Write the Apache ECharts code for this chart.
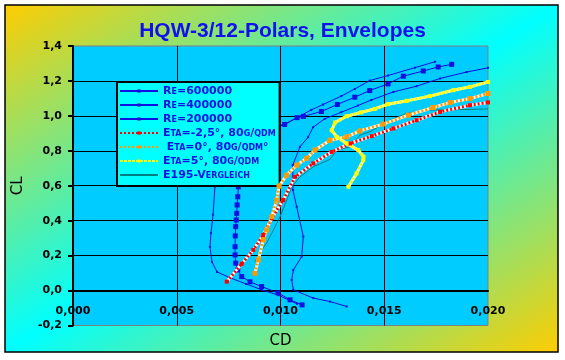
<!DOCTYPE html>
<html><head><meta charset="utf-8">
<script src="https://cdn.jsdelivr.net/npm/echarts@6/dist/echarts.min.js"></script>
<style>html,body{margin:0;padding:0;background:#fff}#c{width:565px;height:360px}</style>
</head><body><div id="c"></div>
<script>
// [CD, CL] pairs
const re600 = [[0.0108,-0.076],[0.00988,-0.026],[0.0091,0.004],[0.00834,0.038],[0.00757,0.073],[0.00694,0.107],[0.0067,0.164],[0.0066,0.25],[0.00665,0.33],[0.00675,0.434],[0.00684,0.593],[0.0070,0.69],[0.0074,0.80],[0.0082,0.89],[0.0094,0.935],[0.0102,0.951],[0.0108,0.99],[0.01148,1.034],[0.01205,1.065],[0.01293,1.113],[0.01358,1.154],[0.0143,1.202],[0.01518,1.231],[0.01648,1.276],[0.01745,1.31]];
const re400 = [[0.01104,-0.082],[0.01046,-0.053],[0.00988,-0.013],[0.00909,0.023],[0.00853,0.05],[0.00813,0.08],[0.00794,0.118],[0.00784,0.157],[0.00781,0.204],[0.00781,0.251],[0.00782,0.313],[0.00784,0.366],[0.00787,0.404],[0.00789,0.442],[0.00791,0.49],[0.00794,0.537],[0.00797,0.594],[0.0081,0.70],[0.0085,0.80],[0.0091,0.88],[0.0097,0.93],[0.0102,0.951],[0.0108,0.99],[0.0111,0.997],[0.01197,1.025],[0.01274,1.065],[0.01358,1.107],[0.0143,1.145],[0.01518,1.183],[0.01592,1.227],[0.01688,1.257],[0.0176,1.28],[0.01825,1.295]];
const re200 = [[0.01319,-0.091],[0.01239,-0.063],[0.01158,-0.043],[0.01062,0.004],[0.01054,0.061],[0.01062,0.118],[0.01102,0.194],[0.0111,0.309],[0.01078,0.48],[0.0106,0.575],[0.01059,0.718],[0.01094,0.823],[0.01133,0.878],[0.01157,0.935],[0.01213,0.983],[0.01293,1.021],[0.01373,1.059],[0.01438,1.091],[0.01544,1.137],[0.01656,1.17],[0.01769,1.214],[0.01897,1.251],[0.0200,1.275]];
const etaM25 = [[0.00741,0.051],[0.00813,0.153],[0.00869,0.233],[0.00917,0.318],[0.00958,0.414],[0.01013,0.518],[0.0107,0.651],[0.01158,0.728],[0.01247,0.794],[0.01335,0.842],[0.0144,0.884],[0.01544,0.928],[0.01656,0.975],[0.01769,1.023],[0.01913,1.061],[0.0200,1.077]];
const eta0 = [[0.00877,0.099],[0.00893,0.175],[0.00917,0.29],[0.00933,0.347],[0.00958,0.423],[0.00982,0.518],[0.00993,0.598],[0.0103,0.661],[0.01078,0.718],[0.01126,0.757],[0.01166,0.804],[0.01239,0.861],[0.01319,0.88],[0.01383,0.914],[0.01495,0.953],[0.01616,1.004],[0.01736,1.048],[0.01817,1.076],[0.01913,1.099],[0.0200,1.128]];
const eta5 = [[0.01327,0.594],[0.01367,0.671],[0.01399,0.747],[0.0140,0.766],[0.01375,0.804],[0.01319,0.842],[0.01271,0.88],[0.01247,0.918],[0.01263,0.962],[0.01319,0.998],[0.01389,1.02],[0.01454,1.04],[0.01518,1.067],[0.01608,1.086],[0.0172,1.113],[0.01833,1.147],[0.01913,1.166],[0.0200,1.194]];
const e195 = [[0.00877,0.166],[0.00909,0.233],[0.00933,0.271],[0.00958,0.328],[0.00982,0.385],[0.00998,0.423],[0.0103,0.518],[0.01054,0.594],[0.01094,0.651],[0.01158,0.709],[0.01239,0.751],[0.01271,0.804],[0.01335,0.823],[0.01383,0.89],[0.01431,0.909],[0.01528,0.975],[0.01608,1.014],[0.01705,1.033],[0.01913,1.037],[0.0200,1.04]];
const seriesNames = ['Re=600000','Re=400000','Re=200000','Eta=-2,5°, 80g/qdm',' Eta=0°, 80g/qdm°','Eta=5°, 80g/qdm','E195-Vergleich'];
const titleText = 'HQW-3/12-Polars, Envelopes';
const xName = 'CD', yName = 'CL';

const BLUE = '#1010E0';
function blueSeries(name, data, size){
  return {name, type:'line', data, symbol:'rect', symbolSize:size, showSymbol:true,
    lineStyle:{color:BLUE, width:1}, itemStyle:{color:BLUE}, z:3};
}
function checkered(name, data, color, size, base, dash){
  return [
    {name:'_b'+name, type:'line', data, showSymbol:false, symbol:'none', lineStyle:{color:base, width:3}, z:4},
    {name, type:'line', data, symbol:'rect', symbolSize:size, lineStyle:{color, width:3, type:dash}, itemStyle:{color}, z:5}
  ];
}
const chart = echarts.init(document.getElementById('c'), null, {renderer:'canvas'});
const tickFont = {fontFamily:'DejaVu Sans', fontWeight:'bold', fontSize:11, color:'#000'};
chart.setOption({
  animation:false,
  backgroundColor:'#fff',
  graphic:[{type:'rect', z:-10, silent:true, shape:{x:5,y:5,width:553,height:347},
    style:{fill:{type:'linear',x:0,y:0,x2:0.565,y2:1.435,colorStops:[
      {offset:0,color:'#FFCC00'},{offset:0.5,color:'#00FFFF'},{offset:1,color:'#FFCC00'}]},
      stroke:'#000', lineWidth:1.5}}],
  title:{text:titleText, left:'center', top:21, padding:0,
    textStyle:{fontFamily:'Liberation Sans', fontWeight:'bold', fontSize:21, color:'#1010F0'}},
  grid:{left:73, right:77, top:46, bottom:34.5, show:true, backgroundColor:'#00CCFF', borderColor:'#808080', borderWidth:1,
    outerBoundsMode:'none', containLabel:false},
  xAxis:{type:'value', min:0, max:0.02, interval:0.005, position:'bottom', offset:0,
    name:xName, nameLocation:'middle', nameGap:43,
    nameTextStyle:{fontFamily:'DejaVu Sans', fontSize:15, color:'#000'},
    axisLine:{onZero:false, lineStyle:{color:'#000', width:2}},
    axisTick:{show:false},
    axisLabel:Object.assign({margin:15, formatter:v=>v.toFixed(3).replace('.',','), showMinLabel:true, showMaxLabel:true}, tickFont),
    splitLine:{show:true, showMaxLine:false, lineStyle:{color:'#000', width:1}}},
  yAxis:{type:'value', min:-0.2, max:1.4, interval:0.2,
    name:yName, nameLocation:'middle', nameGap:47, nameRotate:90,
    nameTextStyle:{fontFamily:'DejaVu Sans', fontSize:15, color:'#000'},
    axisLine:{show:true, onZero:false, lineStyle:{color:'#000', width:2}},
    axisTick:{show:true, inside:false, length:5, lineStyle:{color:'#000', width:2}},
    axisLabel:Object.assign({margin:11, formatter:v=>v.toFixed(1).replace('.',',')}, tickFont),
    splitLine:{show:true, showMaxLine:false, showMinLine:false, lineStyle:{color:'#000', width:1}}},
  legend:{data:seriesNames.map((n,i)=> i===6 ? {name:n, itemStyle:{opacity:0}} : n),
    orient:'vertical', left:117, top:82, selectedMode:false,
    backgroundColor:'#00FFFF', borderColor:'#000', borderWidth:2, borderRadius:0,
    padding:[2,4,4,2], itemWidth:38, itemHeight:4, itemGap:0,
    textStyle:{color:BLUE, fontFamily:'DejaVu Sans', fontWeight:'bold', fontStyle:'normal small-caps', fontSize:11, lineHeight:14}},
  series:[
    blueSeries(seriesNames[0], re600, 2),
    blueSeries(seriesNames[1], re400, 5),
    blueSeries(seriesNames[2], re200, 2),
    {name:seriesNames[6], type:'line', data:e195, symbol:'none', showSymbol:false, lineStyle:{color:'#008080', width:1}, itemStyle:{color:'#008080'}, z:3},
    ...checkered(seriesNames[3], etaM25, '#FF0000', 4, '#FFFFFF', [2,2]),
    ...checkered(seriesNames[4], eta0, '#FF9900', 5, '#FFFFFF', [2,2]),
    ...checkered(seriesNames[5], eta5, '#FFFF00', 4, '#FFFFFF', [3,1])
  ]
});
// move the x axis (line, labels, name) up to CL = 0, measured through the y scale
const yZero = chart.convertToPixel({yAxisIndex:0}, 0);
const yMin = chart.convertToPixel({yAxisIndex:0}, -0.2);
chart.setOption({xAxis:{offset: yZero - yMin}});
</script></body></html>
